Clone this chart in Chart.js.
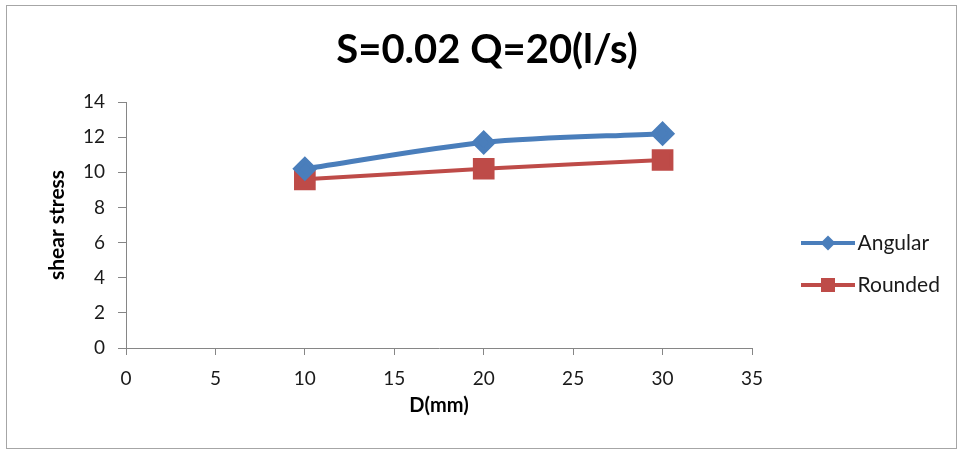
<!DOCTYPE html>
<html>
<head>
<meta charset="utf-8">
<script src="https://cdn.jsdelivr.net/npm/chart.js@4.4.1/dist/chart.umd.min.js"></script>
<style>
  html, body { margin: 0; padding: 0; background: #ffffff; }
  canvas { display: block; }
</style>
</head>
<body>
<canvas id="chart" width="961" height="451"></canvas>
<script>
// ---- data ----
const chartTitle = 'S=0.02 Q=20(l/s)';
const xAxisTitle = 'D(mm)';
const yAxisTitle = 'shear stress';
const seriesNames = ['Angular', 'Rounded'];
const diameters = [10, 20, 30];
const angularStress = [10.2, 11.7, 12.2];
const roundedStress = [9.6, 10.2, 10.7];
const xTicks = [0, 5, 10, 15, 20, 25, 30, 35];
const yTicks = [0, 2, 4, 6, 8, 10, 12, 14];

// ---- styling / layout ----
const FONT = 'Lato';
const TEXT = '#1a1a1a';
const AXIS = '#868686';
const BLUE = '#4A7EBB';
const RED = '#BE4B48';
const W = 961, H = 451;
const PLOT_LEFT = 126, PLOT_RIGHT = 752, PLOT_BOTTOM = 348;
const TITLE_CX = 487;
const LEG_FONT = 21, LEG_PAD = 21, LEG_BOX = 74;
const Y_TITLE_SIZE = 21;

// size the legend column so the plot ends at PLOT_RIGHT
const mctx = document.createElement('canvas').getContext('2d');
mctx.font = LEG_FONT + 'px ' + FONT;
const legendTextW = Math.max(...seriesNames.map(n => mctx.measureText(n).width));
const legendW = LEG_PAD + LEG_BOX + LEG_FONT / 2 + legendTextW + 10;
const padRight = (W - PLOT_RIGHT) - legendW;
const padLeft = padRight + (2 * TITLE_CX - W);

const toPoints = ys => diameters.map((x, i) => ({ x, y: ys[i] }));

// line + marker swatch used by the legend
function legendGlyph(ds) {
  const c = document.createElement('canvas');
  c.width = 120; c.height = 30;
  const g = c.getContext('2d');
  g.strokeStyle = ds.borderColor;
  g.lineWidth = 4;
  g.beginPath(); g.moveTo(51, 15); g.lineTo(105, 15); g.stroke();
  g.fillStyle = ds.pointBackgroundColor;
  g.beginPath();
  if (ds.pointStyle === 'rectRot') {
    const r = 7.5;
    g.moveTo(78 - r, 15); g.lineTo(78, 15 - r); g.lineTo(78 + r, 15); g.lineTo(78, 15 + r);
    g.closePath();
  } else {
    g.rect(78 - 7, 15 - 7, 14, 14);
  }
  g.fill();
  return c;
}

const framePlugin = {
  id: 'frame',
  beforeDraw(chart) {
    const ctx = chart.ctx;
    ctx.save();
    ctx.fillStyle = '#ffffff';
    ctx.fillRect(0, 0, chart.width, chart.height);
    ctx.strokeStyle = '#a6a6a6';
    ctx.lineWidth = 1;
    ctx.strokeRect(6.5, 5.5, 950, 443);
    ctx.restore();
  }
};

new Chart(document.getElementById('chart'), {
  type: 'line',
  data: {
    datasets: [
      {
        label: seriesNames[0],
        data: toPoints(angularStress),
        borderColor: BLUE,
        backgroundColor: BLUE,
        pointBackgroundColor: BLUE,
        pointBorderColor: BLUE,
        borderWidth: 5,
        pointStyle: 'rectRot',
        pointRadius: 9,
        pointHoverRadius: 9,
        tension: 0.3
      },
      {
        label: seriesNames[1],
        data: toPoints(roundedStress),
        borderColor: RED,
        backgroundColor: RED,
        pointBackgroundColor: RED,
        pointBorderColor: RED,
        borderWidth: 4,
        pointStyle: 'rect',
        pointRadius: 12.5,
        pointHoverRadius: 12.5,
        tension: 0.3
      }
    ]
  },
  options: {
    responsive: false,
    animation: false,
    devicePixelRatio: 1,
    layout: { padding: { top: 0, bottom: 0, left: padLeft, right: padRight } },
    plugins: {
      title: {
        display: true,
        text: chartTitle,
        color: '#000000',
        font: { family: FONT, size: 40, weight: 'bold' },
        padding: { top: 26, bottom: 28 }
      },
      legend: {
        display: true,
        position: 'right',
        title: { display: true, text: '', font: { size: 10 }, padding: { top: 65, bottom: 0 } },
        labels: {
          usePointStyle: true,
          pointStyleWidth: LEG_BOX,
          padding: LEG_PAD,
          color: TEXT,
          font: { family: FONT, size: LEG_FONT },
          generateLabels(chart) {
            const items = Chart.defaults.plugins.legend.labels.generateLabels(chart);
            items.forEach(it => {
              it.pointStyle = legendGlyph(chart.data.datasets[it.datasetIndex]);
            });
            return items;
          }
        }
      },
      tooltip: { enabled: false }
    },
    scales: {
      x: {
        type: 'linear',
        min: xTicks[0],
        max: xTicks[xTicks.length - 1],
        afterFit(s) { s.height = H - PLOT_BOTTOM; },
        afterBuildTicks(s) { s.ticks = xTicks.map(v => ({ value: v })); },
        ticks: { color: TEXT, font: { family: FONT, size: 19 }, padding: 12, maxRotation: 0 },
        grid: { display: true, drawOnChartArea: false, drawTicks: true, tickLength: 7, color: AXIS },
        border: { display: true, color: AXIS, width: 1 },
        title: {
          display: true, text: xAxisTitle, color: '#000000',
          font: { family: FONT, size: 20, weight: 'bold' },
          padding: { top: 0, bottom: 33 }
        }
      },
      y: {
        type: 'linear',
        min: yTicks[0],
        max: yTicks[yTicks.length - 1],
        afterFit(s) { s.width = PLOT_LEFT - padLeft; },
        afterBuildTicks(s) { s.ticks = yTicks.map(v => ({ value: v })); },
        ticks: { color: TEXT, font: { family: FONT, size: 19 }, padding: 13 },
        grid: { display: true, drawOnChartArea: false, drawTicks: true, tickLength: 8, color: AXIS },
        border: { display: true, color: AXIS, width: 1 },
        title: {
          display: true, text: yAxisTitle, color: '#000000',
          font: { family: FONT, size: Y_TITLE_SIZE, weight: 'bold' },
          padding: { top: 57 - padLeft - Y_TITLE_SIZE * 0.6, bottom: 0 }
        }
      }
    }
  },
  plugins: [framePlugin]
});
</script>
</body>
</html>
